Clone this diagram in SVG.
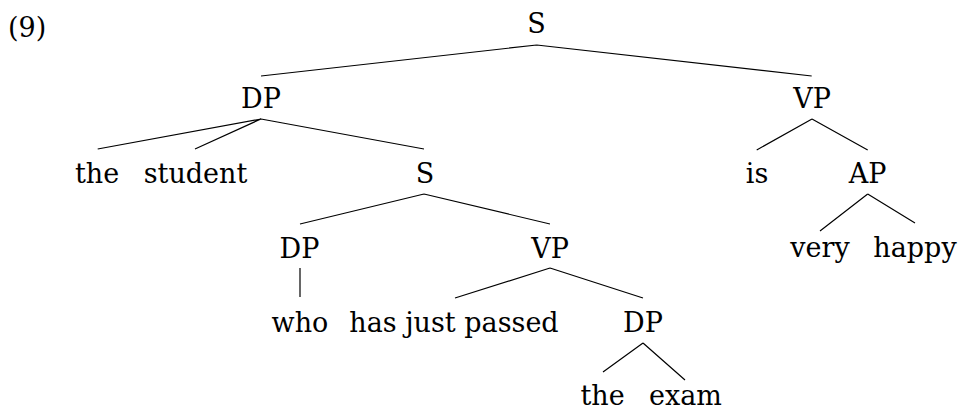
<svg xmlns="http://www.w3.org/2000/svg" width="961" height="410" viewBox="0 0 961 410">
<style>
text{font-family:"DejaVu Serif","Liberation Serif",serif;font-size:27px;fill:#000;text-anchor:middle}
.e{stroke:#000;stroke-width:1.2;fill:none}
</style>
<rect width="961" height="410" fill="#fff"/>
<text x="8" y="37" style="text-anchor:start">(9)</text>
<g id="n_S1"><text x="536.5" y="33">S</text></g>
<g id="n_DP1"><text x="261" y="108">DP</text></g>
<g id="n_VP1"><text x="812" y="108">VP</text></g>
<g id="n_the1"><text x="97" y="183">the</text></g>
<g id="n_student"><text x="195.5" y="183">student</text></g>
<g id="n_S2"><text x="425" y="183">S</text></g>
<g id="n_is"><text x="757" y="183">is</text></g>
<g id="n_AP"><text x="867.5" y="183">AP</text></g>
<g id="n_DP2"><text x="299.5" y="258">DP</text></g>
<g id="n_VP2"><text x="550" y="258">VP</text></g>
<g id="n_very"><text x="820" y="257">very</text></g>
<g id="n_happy"><text x="915" y="257">happy</text></g>
<g id="n_who"><text x="300" y="332">who</text></g>
<g id="n_hjp"><text x="454" y="332">has just passed</text></g>
<g id="n_DP3"><text x="643" y="332">DP</text></g>
<g id="n_the2"><text x="602.5" y="405">the</text></g>
<g id="n_exam"><text x="685.5" y="405">exam</text></g>
<g id="edges" class="e">
<path d="M536.7 45L261 76M536.7 45L811.7 76"/>
<path d="M261 119L97.7 149M261 119L195 149M261 119L424 149"/>
<path d="M812 119L756.7 150M812 119L867.7 150"/>
<path d="M867.7 194L820 231M867.7 194L915 223"/>
<path d="M424 194L300 224M424 194L550 224"/>
<path d="M300 268L300 297"/>
<path d="M550 268L455 298M550 268L643 298"/>
<path d="M643 343L603 372M643 343L685 380"/>
</g>
</svg>
